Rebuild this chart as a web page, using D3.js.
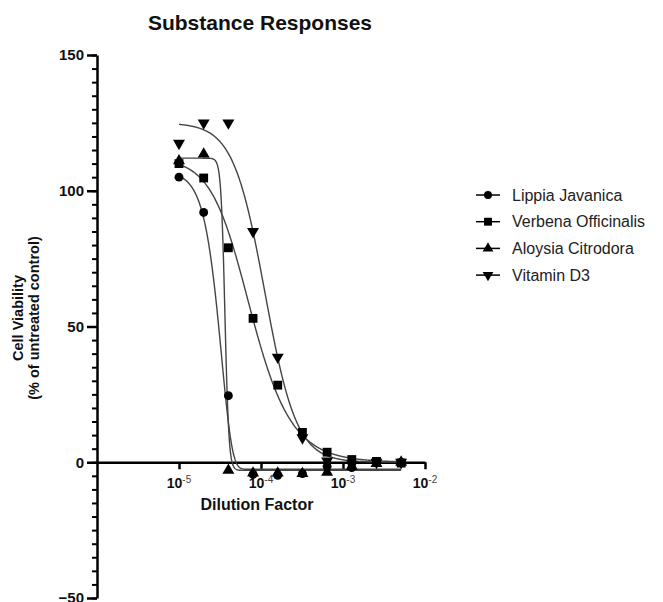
<!DOCTYPE html>
<html>
<head>
<meta charset="utf-8">
<script src="https://cdn.jsdelivr.net/npm/d3@7"></script>
<style>
  body { margin: 0; background: #fff; }
  svg { font-family: "Liberation Sans", Arial, sans-serif; }
</style>
</head>
<body>
<svg id="chart" width="663" height="602"></svg>
<script>
// dilution series (x) and measured viability (% of untreated control)
const dilutions = [1e-5, 2e-5, 4e-5, 8e-5, 1.6e-4, 3.2e-4, 6.4e-4, 1.28e-3, 2.56e-3, 5.12e-3];
const seriesNames = ["Lippia Javanica", "Verbena Officinalis", "Aloysia Citrodora", "Vitamin D3"];
const lippiaValues = [105, 92, 24.5, -4.5, -4.8, -4.2, -1.5, -2, 0, 0];
const verbenaValues = [110, 104.7, 79, 53, 28.4, 11, 3.7, 1, 0.3, -0.3];
const aloysiaValues = [111, 113.5, -3, -4, -4, -4.2, -3.7, -1.5, -0.5, 0];
const vitaminValues = [117.5, 125, 125, 85, 38.7, 9, 0.5, -1, 0, 0];

// fitted sigmoid parameters (asymmetric 5PL), one entry per series
const fitTop = [107, 112, 112, 125];
const fitBottom = [-2.6, 0, -3, 0];
const fitLogEC50 = [-4.108, -4.241, -4.44, -3.952];
const fitHill = [3.5, 2.0, 18, 2.25];
const fitAsym = [20, 0.7, 1, 1];

const yTicks = [-50, 0, 50, 100, 150];
const xTicks = [1e-5, 1e-4, 1e-3, 1e-2];
const xTickExp = ["-5", "-4", "-3", "-2"];

const allValues = [lippiaValues, verbenaValues, aloysiaValues, vitaminValues];
const symbols = [d3.symbolCircle, d3.symbolSquare, d3.symbolTriangle, d3.symbolTriangle];
const symbolSizes = [62, 78, 62, 62];
const symbolRotate = [0, 0, 0, 180];

const svg = d3.select("#chart");

const x = d3.scaleLog().domain([1e-6, 1e-2]).range([97, 425]);
const y = d3.scaleLinear().domain([-50, 150]).range([598, 55]);

// title
svg.append("text")
  .attr("x", 260).attr("y", 30)
  .attr("text-anchor", "middle")
  .attr("font-size", "21px").attr("font-weight", "bold")
  .attr("fill", "#111")
  .text("Substance Responses");

// y axis: minor ticks every 5, major every 50
const minorY = d3.range(-50, 151, 5);
svg.append("g")
  .attr("transform", "translate(97,0)")
  .call(d3.axisLeft(y).tickValues(minorY).tickSize(5).tickFormat(""))
  .call(g => g.select(".domain").remove())
  .call(g => g.selectAll("line").attr("stroke", "#000").attr("stroke-width", 2));

const yAxis = svg.append("g")
  .attr("transform", "translate(97,0)")
  .call(d3.axisLeft(y).tickValues(yTicks).tickSize(10).tickSizeOuter(0).tickPadding(3));
yAxis.select(".domain").attr("stroke", "#000").attr("stroke-width", 2.5);
yAxis.selectAll(".tick line").attr("stroke", "#000").attr("stroke-width", 2.5);
yAxis.selectAll("text")
  .attr("font-size", "15px").attr("font-weight", "bold")
  .attr("font-family", "Liberation Sans, Arial, sans-serif")
  .attr("fill", "#111");

// x axis at y = 0
const xAxis = svg.append("g")
  .attr("transform", `translate(0,${y(0)})`)
  .call(d3.axisBottom(x).tickValues(xTicks).tickSize(7).tickSizeOuter(0).tickFormat(""));
xAxis.select(".domain").attr("stroke", "#000").attr("stroke-width", 2.5);
xAxis.selectAll(".tick line").attr("stroke", "#000").attr("stroke-width", 2.5);

const xLabels = svg.append("g");
xTicks.forEach((t, i) => {
  const lab = xLabels.append("text")
    .attr("x", x(t)).attr("y", 488)
    .attr("text-anchor", "middle")
    .attr("fill", "#111");
  lab.append("tspan").attr("font-size", "14px").attr("font-weight", "bold").text("10");
  lab.append("tspan").attr("font-size", "10px").attr("dy", -5).attr("fill", "#444").text(xTickExp[i]);
});

// axis titles
svg.append("text")
  .attr("x", 257).attr("y", 510)
  .attr("text-anchor", "middle")
  .attr("font-size", "16px").attr("font-weight", "bold")
  .attr("fill", "#111")
  .text("Dilution Factor");

const yTitle = svg.append("text")
  .attr("transform", "translate(23,318) rotate(-90)")
  .attr("text-anchor", "middle")
  .attr("font-size", "14.5px").attr("font-weight", "bold")
  .attr("fill", "#111");
yTitle.append("tspan").attr("x", 0).attr("y", 0).text("Cell Viability");
yTitle.append("tspan").attr("x", 0).attr("y", 16).text("(% of untreated control)");

// fitted curves
const fit = i => d => {
  const z = Math.pow(10, fitHill[i] * (Math.log10(d) - fitLogEC50[i]));
  return fitBottom[i] + (fitTop[i] - fitBottom[i]) / Math.pow(1 + z, fitAsym[i]);
};
const uMin = Math.log10(dilutions[0]);
const uMax = Math.log10(dilutions[dilutions.length - 1]);
const samples = d3.range(0, 601).map(k => Math.pow(10, uMin + (uMax - uMin) * k / 600));

const line = d3.line().x(d => x(d[0])).y(d => y(d[1]));
seriesNames.forEach((name, i) => {
  const f = fit(i);
  svg.append("path")
    .datum(samples.map(d => [d, f(d)]))
    .attr("d", line)
    .attr("fill", "none")
    .attr("stroke", "#444")
    .attr("stroke-width", 1.4);
});

// data points
seriesNames.forEach((name, i) => {
  const sym = d3.symbol().type(symbols[i]).size(symbolSizes[i]);
  svg.append("g").selectAll("path")
    .data(dilutions.map((d, k) => [d, allValues[i][k]]))
    .enter().append("path")
    .attr("d", sym)
    .attr("transform", d => `translate(${x(d[0])},${y(d[1])}) rotate(${symbolRotate[i]})`)
    .attr("fill", "#000");
});

// legend
const legend = svg.append("g").attr("transform", "translate(488,195)");
seriesNames.forEach((name, i) => {
  const row = legend.append("g").attr("transform", `translate(0,${i * 26.7})`);
  row.append("line").attr("x1", -12).attr("x2", 12)
    .attr("stroke", "#000").attr("stroke-width", 1.5);
  row.append("path")
    .attr("d", d3.symbol().type(symbols[i]).size(symbolSizes[i] * 0.8))
    .attr("transform", `rotate(${symbolRotate[i]})`)
    .attr("fill", "#000");
  row.append("text")
    .attr("x", 24).attr("y", 5.5)
    .attr("font-size", "16px")
    .attr("fill", "#222")
    .text(name);
});
</script>
</body>
</html>
